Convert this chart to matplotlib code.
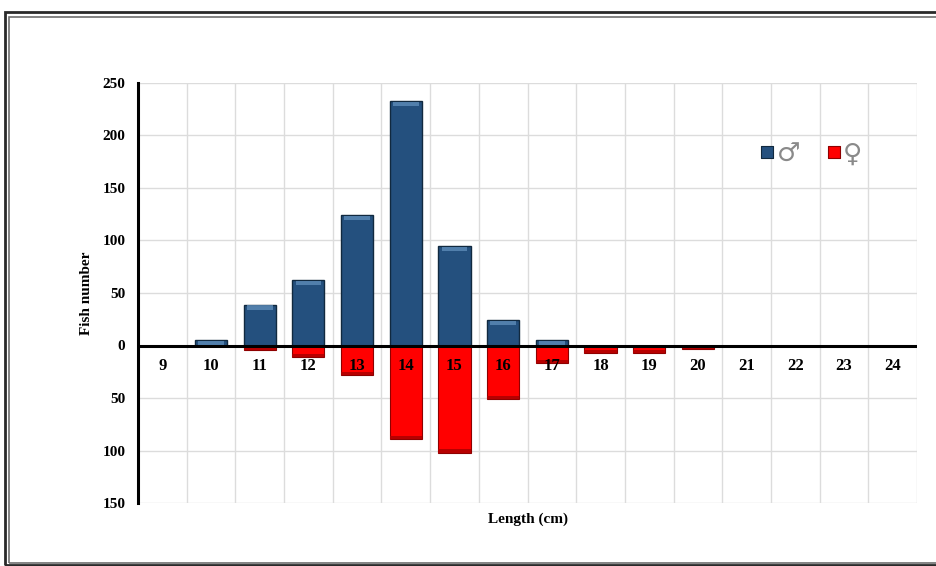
import numpy as np
import matplotlib
matplotlib.use("Agg")
import matplotlib.pyplot as plt
from matplotlib.patches import Rectangle

# length classes (cm) and fish counts per sex
lengths = [9, 10, 11, 12, 13, 14, 15, 16, 17, 18, 19, 20, 21, 22, 23, 24]
males = [0, 5, 39, 62, 124, 233, 95, 24, 5, 0, 0, 0, 0, 0, 0, 0]
females = [0, 0, 4, 11, 28, 89, 102, 51, 17, 7, 7, 3, 0, 0, 0, 0]
yticks = [250, 200, 150, 100, 50, 0, -50, -100, -150]

blue = "#24507E"
blue_dark = "#11293F"
blue_light = "#5D8BB8"
red = "#FF0000"
red_dark = "#8E0000"

serif = "Liberation Serif"

fig = plt.figure(figsize=(9.36, 5.66), dpi=100)
ax = fig.add_axes([138 / 936, 63 / 566, 779 / 936, 420 / 566])

x = np.arange(len(lengths))
m = np.array(males, dtype=float)
f = -np.array(females, dtype=float)
w = 0.66

# main bars, females drawn downward
ax.bar(x, m, width=w, color=blue, edgecolor=blue_dark, linewidth=1.0, zorder=3)
ax.bar(x, f, width=w, color=red, edgecolor=red_dark, linewidth=0.8, zorder=3)

# bevel highlights: light cap on the males, dark foot on the females
cap = np.minimum(m, 4.0)
ax.bar(x, cap, bottom=m - cap - 0.8, width=w * 0.8, color=blue_light,
       linewidth=0, zorder=4, alpha=0.8)
foot = np.minimum(-f, 3.0)
ax.bar(x, -foot, bottom=f + foot, width=w, color="#B00000",
       linewidth=0, zorder=4, alpha=0.9)

ax.set_xlim(-0.5, len(lengths) - 0.5)
ax.set_ylim(-150, 250)

# grid on category boundaries and every 50 fish
ax.set_xticks(np.arange(-0.5, len(lengths), 1.0), minor=True)
ax.set_xticks([])
ax.grid(which="minor", axis="x", color="#DCDCDC", linewidth=1.0, zorder=0)
ax.set_yticks(yticks)
ax.set_yticklabels([str(abs(v)) for v in yticks], fontfamily=serif,
                   fontweight="bold", fontsize=11)
ax.grid(which="major", axis="y", color="#DCDCDC", linewidth=1.0, zorder=0)
ax.tick_params(axis="both", which="both", length=0)
ax.tick_params(axis="y", pad=9)

for side in ["top", "right", "bottom"]:
    ax.spines[side].set_visible(False)
ax.spines["left"].set_linewidth(2.2)
ax.spines["left"].set_color("black")
ax.axhline(0, color="black", linewidth=2.2, zorder=5)

# category labels sit just under the zero line
for xi, lab in zip(x, lengths):
    ax.text(xi, -20, str(lab), ha="center", va="center", fontfamily=serif,
            fontweight="bold", fontsize=12, zorder=6)

ax.set_ylabel("Fish number", fontfamily=serif, fontweight="bold", fontsize=11,
              labelpad=7)
ax.set_xlabel("Length (cm)", fontfamily=serif, fontweight="bold", fontsize=11)
ax.xaxis.set_label_coords(0.5, -0.022)

# legend: coloured squares with the sex symbols
for xa, col, edge, sym in [(0.808, blue, blue_dark, "\u2642"),
                           (0.893, red, red_dark, "\u2640")]:
    ax.scatter([xa], [0.836], transform=ax.transAxes, marker="s", s=80,
               color=col, edgecolor=edge, linewidth=0.8, zorder=7)
    ax.text(xa + 0.012, 0.83, sym, transform=ax.transAxes, ha="left",
            va="center", fontsize=19, color="#8A8A8A", zorder=7)

# double frame around the figure
fig.patches.append(Rectangle((5 / 936, 1 / 566), 1.1, 553 / 566,
                             transform=fig.transFigure, fill=False,
                             edgecolor="#2A2A2A", linewidth=2.0))
fig.patches.append(Rectangle((9 / 936, 3 / 566), 1.1, 546 / 566,
                             transform=fig.transFigure, fill=False,
                             edgecolor="#6E6E6E", linewidth=1.2))

fig.savefig("out.png", dpi=100)
